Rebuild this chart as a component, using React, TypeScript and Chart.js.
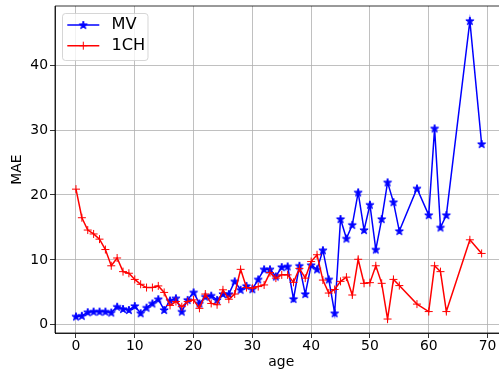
import React, { useEffect, useRef } from 'react';
import { Chart, registerables } from 'chart.js';

Chart.register(...registerables);

const ages = [
  0, 1, 2, 3, 4, 5, 6, 7, 8, 9, 10, 11, 12, 13, 14, 15, 16, 17, 18, 19,
  20, 21, 22, 23, 24, 25, 26, 27, 28, 29, 30, 31, 32, 33, 34, 35, 36, 37, 38, 39,
  40, 41, 42, 43, 44, 45, 46, 47, 48, 49, 50, 51, 52, 53, 54, 55, 58, 60, 61, 62,
  63, 67, 69,
];

const mvValues = [
  1.3, 1.4, 1.95, 2.05, 2.05, 2.05, 1.9, 2.8, 2.45, 2.3, 2.9, 1.8, 2.65, 3.3, 3.95, 2.3, 3.75, 4.1, 2.05, 3.85,
  5.0, 3.3, 4.35, 4.5, 3.85, 4.75, 4.75, 6.7, 5.4, 6.0, 5.5, 7.0, 8.55, 8.55, 7.45, 8.9, 9.0, 4.0, 9.1, 4.75,
  9.2, 8.55, 11.5, 7.0, 1.8, 16.3, 13.3, 15.4, 20.4, 14.6, 18.5, 11.6, 16.3, 21.95, 18.9, 14.45, 21.0, 16.9, 30.25, 15.0,
  16.9, 46.8, 27.85,
];

const chValues = [
  20.9, 16.5, 14.6, 14.0, 13.2, 11.6, 9.1, 10.3, 8.2, 7.95, 7.0, 6.25, 5.75, 5.75, 6.0, 5.0, 3.0, 3.6, 2.8, 3.6,
  3.85, 2.55, 4.75, 3.3, 3.1, 5.4, 3.95, 4.75, 8.55, 5.75, 5.65, 5.9, 6.15, 8.05, 7.2, 7.7, 7.7, 6.55, 8.7, 7.2,
  9.75, 10.8, 6.9, 4.9, 5.45, 6.7, 7.35, 4.6, 10.1, 6.4, 6.5, 9.1, 6.4, 0.9, 7.0, 6.05, 3.2, 2.05, 9.1, 8.2,
  2.05, 13.1, 11.0,
];

const seriesLabels = ['MV', '1CH'];
const seriesColors = ['#0000ff', '#ff0000'];
const xTicks = [0, 10, 20, 30, 40, 50, 60, 70];
const yTicks = [0, 10, 20, 30, 40];
const xTitle = 'age';
const yTitle = 'MAE';

const FONT = "'DejaVu Sans', sans-serif";

function starPath(ctx: CanvasRenderingContext2D, cx: number, cy: number, r: number) {
  ctx.beginPath();
  for (let i = 0; i < 10; i++) {
    const rad = i % 2 === 0 ? r : r * 0.381966;
    const a = -Math.PI / 2 + (i * Math.PI) / 5;
    const x = cx + rad * Math.cos(a);
    const y = cy + rad * Math.sin(a);
    if (i === 0) ctx.moveTo(x, y);
    else ctx.lineTo(x, y);
  }
  ctx.closePath();
}

function makeStar(color: string): HTMLCanvasElement {
  const c = document.createElement('canvas');
  c.width = 12;
  c.height = 12;
  const ctx = c.getContext('2d')!;
  starPath(ctx, 6, 6.3, 4.3);
  ctx.fillStyle = color;
  ctx.fill();
  ctx.strokeStyle = color;
  ctx.lineWidth = 1;
  ctx.lineJoin = 'round';
  ctx.stroke();
  return c;
}

const framePlugin = {
  id: 'frameAndLegend',
  afterDraw(chart: any, _args: any, opts: any) {
    const { ctx, chartArea } = chart;
    ctx.save();
    ctx.strokeStyle = '#000';
    ctx.lineWidth = 0.8;
    ctx.beginPath();
    ctx.moveTo(chartArea.right, chartArea.top);
    ctx.lineTo(chartArea.left, chartArea.top);
    ctx.lineTo(chartArea.left, chartArea.bottom);
    ctx.lineTo(chartArea.right, chartArea.bottom);
    ctx.stroke();

    // legend
    const lx = 62.5, ly = 13.5, lw = 85.5, lh = 47;
    ctx.globalAlpha = 0.8;
    ctx.beginPath();
    (ctx as any).roundRect(lx, ly, lw, lh, 3);
    ctx.fillStyle = '#ffffff';
    ctx.fill();
    ctx.strokeStyle = '#cccccc';
    ctx.lineWidth = 1;
    ctx.stroke();
    ctx.globalAlpha = 1;

    const rows = [25, 45.7];
    const star: HTMLCanvasElement = opts.star;
    rows.forEach((y, i) => {
      const color = seriesColors[i];
      ctx.strokeStyle = color;
      ctx.lineWidth = 1.5;
      ctx.beginPath();
      ctx.moveTo(67.3, y);
      ctx.lineTo(99.3, y);
      ctx.stroke();
      if (i === 0) {
        ctx.drawImage(star, 83.3 - 6, y - 6);
      } else {
        ctx.lineWidth = 1;
        ctx.beginPath();
        ctx.moveTo(83.3 - 4, y);
        ctx.lineTo(83.3 + 4, y);
        ctx.moveTo(83.3, y - 4);
        ctx.lineTo(83.3, y + 4);
        ctx.stroke();
      }
      ctx.fillStyle = '#000';
      ctx.font = `16.2px ${FONT}`;
      ctx.textBaseline = 'middle';
      ctx.textAlign = 'left';
      ctx.fillText(seriesLabels[i], 111.5, y);
    });
    ctx.restore();
  },
};

export default function App() {
  const ref = useRef<HTMLCanvasElement | null>(null);

  useEffect(() => {
    if (!ref.current) return;
    const star = makeStar(seriesColors[0]);
    const mvData = ages.map((a, i) => ({ x: a, y: mvValues[i] }));
    const chData = ages.map((a, i) => ({ x: a, y: chValues[i] }));

    const chart = new Chart(ref.current, {
      type: 'line',
      data: {
        datasets: [
          {
            label: seriesLabels[0],
            data: mvData,
            borderColor: seriesColors[0],
            backgroundColor: seriesColors[0],
            borderWidth: 1.5,
            pointStyle: star as any,
            pointRadius: 4,
            tension: 0,
            order: 1,
          },
          {
            label: seriesLabels[1],
            data: chData,
            borderColor: seriesColors[1],
            backgroundColor: seriesColors[1],
            borderWidth: 1.5,
            pointStyle: 'cross',
            pointRadius: 4,
            pointBorderWidth: 1,
            tension: 0,
            order: 0,
          },
        ],
      },
      options: {
        responsive: false,
        animation: false,
        events: [],
        layout: { padding: { left: 0, top: 6, right: 0, bottom: 0 } },
        plugins: {
          legend: { display: false },
          tooltip: { enabled: false },
          frameAndLegend: { star },
        } as any,
        scales: {
          x: {
            type: 'linear',
            min: -3.57,
            max: 73.4,
            afterBuildTicks: (scale: any) => {
              scale.ticks = xTicks.map((v) => ({ value: v }));
            },
            afterFit: (scale: any) => {
              scale.height = 38;
              scale.paddingLeft = 0;
              scale.paddingRight = 0;
            },
            grid: {
              color: '#b0b0b0',
              lineWidth: 0.8,
              tickColor: '#000',
              tickLength: 5,
              tickWidth: 0.8,
            },
            border: { display: true, color: '#000', width: 0.8 },
            ticks: {
              color: '#000',
              font: { family: FONT, size: 13.9 },
              padding: 0,
              maxRotation: 0,
              autoSkip: false,
            },
            title: {
              display: true,
              text: xTitle,
              color: '#000',
              font: { family: FONT, size: 13.9 },
              padding: { top: 0, bottom: 0 },
            },
          },
          y: {
            type: 'linear',
            min: -1.25,
            max: 49.1,
            afterBuildTicks: (scale: any) => {
              scale.ticks = yTicks.map((v) => ({ value: v }));
            },
            afterFit: (scale: any) => {
              scale.width = 55;
              scale.paddingTop = 0;
              scale.paddingBottom = 0;
            },
            grid: {
              color: '#b0b0b0',
              lineWidth: 0.8,
              tickColor: '#000',
              tickLength: 5,
              tickWidth: 0.8,
            },
            border: { display: true, color: '#000', width: 0.8 },
            ticks: {
              color: '#000',
              font: { family: FONT, size: 13.9 },
              padding: 2,
              autoSkip: false,
            },
            title: {
              display: true,
              text: yTitle,
              color: '#000',
              font: { family: FONT, size: 13.9 },
              padding: { top: 9, bottom: 0 },
            },
          },
        },
      },
      plugins: [framePlugin],
    });
    return () => chart.destroy();
  }, []);

  return (
    <div style={{ position: 'fixed', left: 0, top: 0, width: 499, height: 371, overflow: 'hidden', background: '#fff' }}>
      <canvas ref={ref} width={513} height={371} style={{ display: 'block', width: 513, height: 371 }} />
    </div>
  );
}
